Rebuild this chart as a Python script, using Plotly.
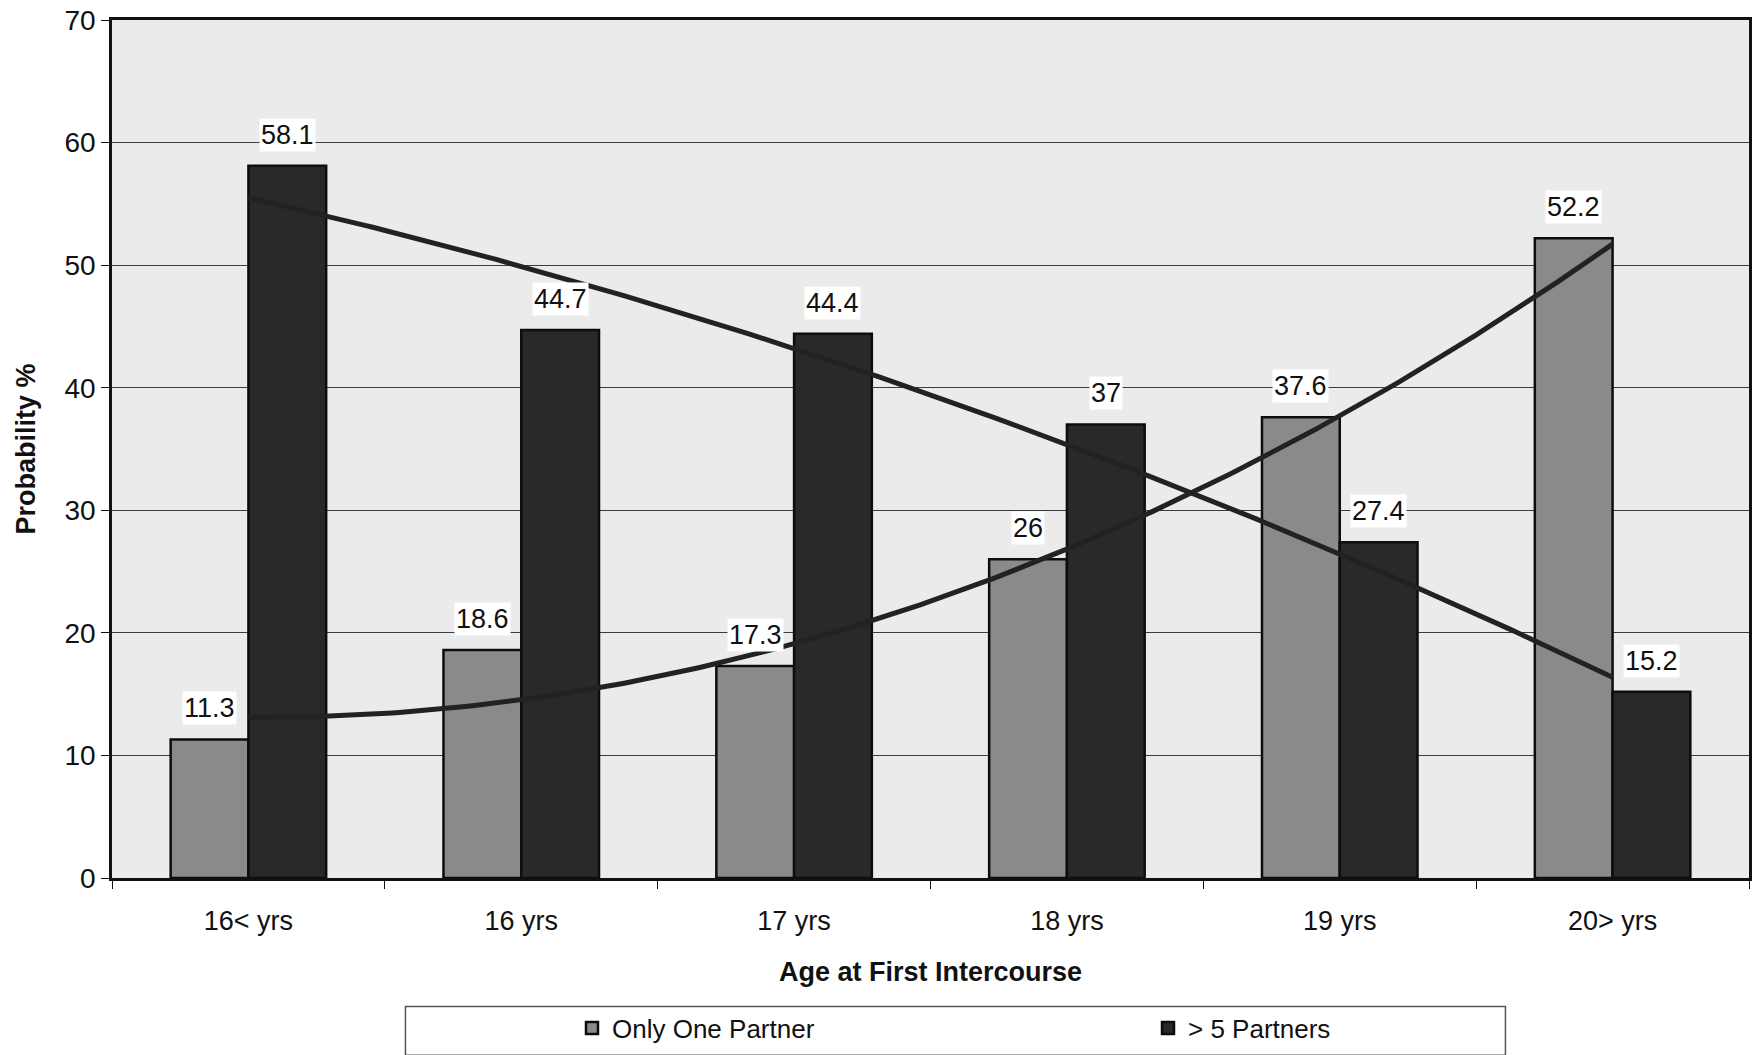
import numpy as np
import plotly.graph_objects as go

# Age groups at first intercourse
categories = ["16< yrs", "16 yrs", "17 yrs", "18 yrs", "19 yrs", "20> yrs"]
# Probability (%) per age group
only_one_partner = [11.3, 18.6, 17.3, 26, 37.6, 52.2]
five_plus_partners = [58.1, 44.7, 44.4, 37, 27.4, 15.2]
y_ticks = [0, 10, 20, 30, 40, 50, 60, 70]

FONT = "Liberation Sans, Arial, sans-serif"
GREY_BAR = "#8a8a8a"
DARK_BAR = "#292929"
BARGAP = 0.43

x = np.arange(len(categories))
bar_w = (1 - BARGAP) / 2

fig = go.Figure()
fig.add_trace(go.Bar(
    x=x, y=only_one_partner, name="Only One Partner",
    marker=dict(color=GREY_BAR, line=dict(color="#0d0d0d", width=2.5)),
))
fig.add_trace(go.Bar(
    x=x, y=five_plus_partners, name="> 5 Partners",
    marker=dict(color=DARK_BAR, line=dict(color="#0d0d0d", width=2.5)),
))

# Second-order polynomial trend lines through the category centres
xs = np.linspace(x[0], x[-1], 200)
for series in (only_one_partner, five_plus_partners):
    coef = np.polyfit(x, series, 2)
    fig.add_trace(go.Scatter(
        x=xs, y=np.polyval(coef, xs), mode="lines",
        line=dict(color="#222222", width=5), showlegend=False, hoverinfo="skip",
    ))

# Value labels on white boxes above each bar
annotations = []
for offset, series in ((-bar_w / 2, only_one_partner), (bar_w / 2, five_plus_partners)):
    for xi, v in zip(x, series):
        annotations.append(dict(
            x=xi + offset, y=v, text=f"{v:g}", showarrow=False,
            yanchor="bottom", yshift=14, bgcolor="white",
            font=dict(family=FONT, size=27, color="#111111"),
        ))

fig.update_layout(
    width=1755, height=1055,
    margin=dict(l=112, r=3, t=20, b=173),
    paper_bgcolor="white",
    plot_bgcolor="#ebebeb",
    barmode="group", bargap=BARGAP, bargroupgap=0,
    font=dict(family=FONT, size=27, color="#111111"),
    annotations=annotations,
    xaxis=dict(
        range=[-0.5, len(categories) - 0.5],
        tickvals=x, ticktext=categories,
        # invisible major ticks push the category labels down
        ticks="outside", ticklen=17, tickcolor="rgba(0,0,0,0)",
        minor=dict(tickvals=np.arange(-0.5, len(categories), 1.0), ticks="outside",
                   ticklen=8, tickcolor="#111111", showgrid=False),
        showline=True, linecolor="#111111", linewidth=2.5, mirror=True,
        showgrid=False, zeroline=False,
        title=dict(text="<b>Age at First Intercourse</b>", standoff=27,
                   font=dict(size=27)),
        tickfont=dict(size=27),
    ),
    yaxis=dict(
        range=[0, 70], tickvals=y_ticks, ticks="outside", ticklen=8,
        tickcolor="#111111",
        showline=True, linecolor="#111111", linewidth=2.5, mirror=True,
        showgrid=True, gridcolor="#3c3c3c", gridwidth=1, zeroline=False,
        title=dict(text="<b>Probability %</b>", standoff=22, font=dict(size=27)),
        tickfont=dict(size=28),
    ),
    legend=dict(
        orientation="h", x=0.281, xanchor="left", y=-0.175, yanchor="middle",
        entrywidth=531, entrywidthmode="pixels",
        bgcolor="rgba(0,0,0,0)", font=dict(size=26),
    ),
    shapes=[dict(
        type="rect", xref="paper", yref="paper",
        x0=(406 - 112) / 1640, x1=(1508 - 112) / 1640,
        y0=(882 - 1060) / 862, y1=(882 - 1011) / 862,
        line=dict(color="#555555", width=1.5), fillcolor="rgba(0,0,0,0)",
    )],
)

fig.write_html("out.html")
